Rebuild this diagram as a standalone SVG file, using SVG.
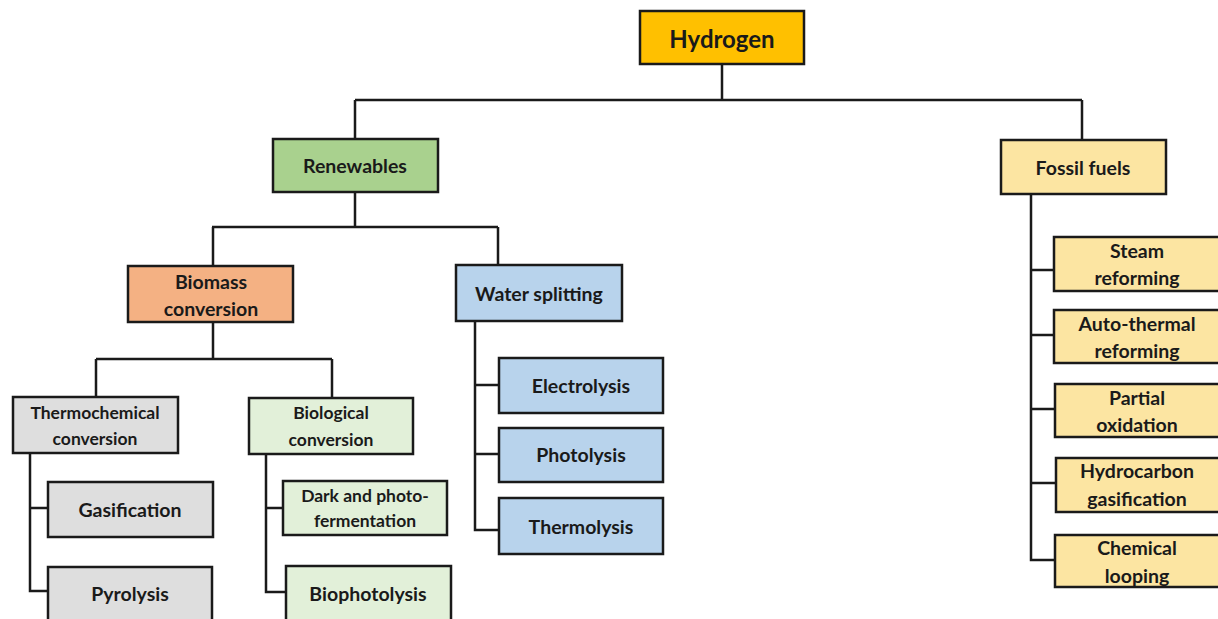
<svg xmlns="http://www.w3.org/2000/svg" width="1218" height="619" viewBox="0 0 1218 619">
<style>
.n rect{stroke:#1a1a1a;stroke-width:2.5}
.c{fill:none;stroke:#1a1a1a;stroke-width:2.5}
text{font-family:Lato,"Open Sans","Liberation Sans",sans-serif;font-weight:bold;fill:#1a1a1a;text-anchor:middle;dominant-baseline:central;font-size:18px}
.big{font-size:24px}
.m{font-size:19.5px}
.s{font-size:17.5px}
.gold{fill:#FFC000}.green{fill:#A9D18E}.orange{fill:#F4B183}.blue{fill:#B8D3EC}.grey{fill:#DEDEDE}.lgreen{fill:#E2F0D9}.yellow{fill:#FCE5A2}
</style>
<rect width="1218" height="619" fill="#fff"/>
<g id="connectors">
<path class="c" d="M722 64V100M355 100H1082M355 100V139M1082 100V140"/>
<path class="c" d="M355 192V227M212 227H498M213 227V266M498 227V265"/>
<path class="c" d="M213 322V359M96 359H332M96 359V397M332 359V398"/>
<path class="c" d="M30 453V591H48M30 508H48"/>
<path class="c" d="M266 454V592H286M266 508H283"/>
<path class="c" d="M475 321V530H499M475 385H499M475 454H499"/>
<path class="c" d="M1031 194V560H1055M1031 270H1054M1031 335H1054M1031 409H1055M1031 483H1056"/>
</g>
<g id="hydrogen" class="n"><rect class="gold" x="640" y="11" width="164" height="53"/><text class="big" x="722" y="38">Hydrogen</text></g>
<g id="renewables" class="n"><rect class="green" x="273" y="139" width="165" height="53"/><text class="m" x="355" y="165">Renewables</text></g>
<g id="fossil" class="n"><rect class="yellow" x="1001" y="140" width="165" height="54"/><text class="m" x="1083" y="167">Fossil fuels</text></g>
<g id="biomass" class="n"><rect class="orange" x="128" y="266" width="165" height="56"/><text class="m" x="211" y="281">Biomass</text><text class="m" x="211" y="308">conversion</text></g>
<g id="water" class="n"><rect class="blue" x="456" y="265" width="166" height="56"/><text class="m" x="539" y="293">Water splitting</text></g>
<g id="thermochemical" class="n"><rect class="grey" x="13" y="397" width="165" height="56"/><text class="s" x="95" y="412">Thermochemical</text><text class="s" x="95" y="438">conversion</text></g>
<g id="biological" class="n"><rect class="lgreen" x="249" y="398" width="164" height="56"/><text class="s" x="331" y="412">Biological</text><text class="s" x="331" y="439">conversion</text></g>
<g id="gasification" class="n"><rect class="grey" x="48" y="482" width="165" height="55"/><text class="m" x="130" y="509">Gasification</text></g>
<g id="pyrolysis" class="n"><rect class="grey" x="48" y="567" width="164" height="60"/><text class="m" x="130" y="593">Pyrolysis</text></g>
<g id="dark" class="n"><rect class="lgreen" x="283" y="481" width="164" height="54"/><text class="s" x="365" y="495">Dark and photo-</text><text class="s" x="365" y="520">fermentation</text></g>
<g id="biophotolysis" class="n"><rect class="lgreen" x="286" y="566" width="165" height="60"/><text class="m" x="368" y="593">Biophotolysis</text></g>
<g id="electrolysis" class="n"><rect class="blue" x="499" y="358" width="164" height="55"/><text class="m" x="581" y="385">Electrolysis</text></g>
<g id="photolysis" class="n"><rect class="blue" x="499" y="428" width="164" height="54"/><text class="m" x="581" y="454">Photolysis</text></g>
<g id="thermolysis" class="n"><rect class="blue" x="499" y="498" width="164" height="56"/><text class="m" x="581" y="526">Thermolysis</text></g>
<g id="steam" class="n"><rect class="yellow" x="1054" y="237" width="170" height="54"/><text class="m" x="1137" y="250">Steam</text><text class="m" x="1137" y="277">reforming</text></g>
<g id="autothermal" class="n"><rect class="yellow" x="1054" y="310" width="170" height="53"/><text class="m" x="1137" y="323">Auto-thermal</text><text class="m" x="1137" y="350">reforming</text></g>
<g id="partial" class="n"><rect class="yellow" x="1055" y="384" width="170" height="53"/><text class="m" x="1137" y="397">Partial</text><text class="m" x="1137" y="424">oxidation</text></g>
<g id="hydrocarbon" class="n"><rect class="yellow" x="1056" y="458" width="170" height="54"/><text class="m" x="1137" y="470">Hydrocarbon</text><text class="m" x="1137" y="498">gasification</text></g>
<g id="chemical" class="n"><rect class="yellow" x="1055" y="535" width="170" height="52"/><text class="m" x="1137" y="547">Chemical</text><text class="m" x="1137" y="575">looping</text></g>
</svg>
